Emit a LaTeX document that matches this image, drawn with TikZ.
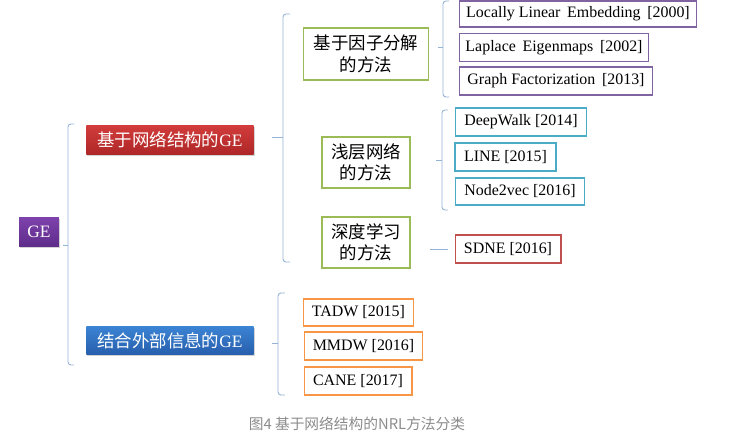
\documentclass[tikz,border=0pt]{standalone}
\usepackage{fontspec}
\setmainfont{Liberation Serif}
\newfontfamily\cjk{Noto Sans CJK SC}
\usetikzlibrary{shadows}
\definecolor{brk}{HTML}{95B3D7}
\definecolor{pur}{HTML}{8064A2}
\definecolor{cyn}{HTML}{4BACC6}
\definecolor{rdb}{HTML}{C0504D}
\definecolor{org}{HTML}{F79646}
\definecolor{grn}{HTML}{9BBB59}
\definecolor{cap}{HTML}{8C8C8C}
\definecolor{putop}{HTML}{7E42AC}
\definecolor{pubot}{HTML}{5E2C8A}
\definecolor{rdtop}{HTML}{D23C3C}
\definecolor{rdbot}{HTML}{AE2626}
\definecolor{bltop}{HTML}{3C84D4}
\definecolor{blbot}{HTML}{265EAC}
\tikzset{
  box/.style={draw, line width=1.4pt, fill=white, inner sep=0pt, align=center},
  leaf/.style={box, font=\fontsize{16}{18}\selectfont},
  mid/.style={box, draw=grn, font=\fontsize{17.5}{21.5}\selectfont\cjk},
  topbox/.style={inner sep=0pt, text=white, font=\fontsize{17.5}{20}\selectfont, drop shadow={shadow xshift=1pt, shadow yshift=-1.5pt, opacity=0.35}},
  brace/.style={draw=brk, line width=0.9pt, rounded corners=3pt},
}
\begin{document}
\begin{tikzpicture}[x=1bp,y=-1bp]
\useasboundingbox (0,0) rectangle (756,444);
% level 0
\node[topbox, top color=putop, bottom color=pubot, minimum width=40, minimum height=30] (ge) at (39,232) {GE};
% level 1
\node[topbox, top color=rdtop, bottom color=rdbot, minimum width=168, minimum height=30] (net) at (170,140) {{\cjk 基于网络结构的}GE};
\node[topbox, top color=bltop, bottom color=blbot, minimum width=168, minimum height=29] (ext) at (170,340.5) {{\cjk 结合外部信息的}GE};
% level 2
\node[mid, minimum width=126, minimum height=52] (fac) at (366,54) {基于因子分解\\的方法};
\node[mid, minimum width=88, minimum height=51] (sha) at (366,162.5) {浅层网络\\的方法};
\node[mid, minimum width=88, minimum height=51] (dee) at (366,242.5) {深度学习\\的方法};
% leaves
\node[leaf, draw=pur, minimum width=238, minimum height=26] (lle) at (578,14) {Locally\ Linear\ \,Embedding\ \,[2000]};
\node[leaf, draw=pur, minimum width=190, minimum height=28] (lap) at (554,47.5) {Laplace\ \,Eigenmaps\ \,[2002]};
\node[leaf, draw=pur, minimum width=194, minimum height=28] (gfa) at (556,81) {Graph Factorization\ \,[2013]};
\node[leaf, draw=cyn, minimum width=132, minimum height=28] (dw) at (521,122) {DeepWalk [2014]};
\node[leaf, draw=cyn, minimum width=101, minimum height=28] (lin) at (505.5,157) {LINE [2015]};
\node[leaf, draw=cyn, minimum width=130, minimum height=27] (n2v) at (520,191.5) {Node2vec [2016]};
\node[leaf, draw=rdb, minimum width=106, minimum height=28] (sdn) at (508,249) {SDNE [2016]};
\node[leaf, draw=org, minimum width=111, minimum height=27] (tad) at (358.5,312.5) {TADW [2015]};
\node[leaf, draw=org, minimum width=119, minimum height=28] (mmd) at (363.5,346) {MMDW [2016]};
\node[leaf, draw=org, minimum width=108, minimum height=28] (can) at (358,381) {CANE [2017]};
% braces
\coordinate (b0) at (63,245);
\draw[brace] (74,124) -- (68,124) -- (68,365) -- (74,365);
\draw[brace, rounded corners=0pt] (68,245) -- (b0);
\coordinate (b1) at (272,137);
\draw[brace] (290,14) -- (283,14) -- (283,262) -- (290,262);
\draw[brace, rounded corners=0pt] (283,137) -- (b1);
\coordinate (b2) at (272,343);
\draw[brace] (285,293) -- (278,293) -- (278,395) -- (285,395);
\draw[brace, rounded corners=0pt] (278,343) -- (b2);
\coordinate (b3) at (438,47);
\draw[brace] (449,1) -- (443,1) -- (443,97) -- (449,97);
\draw[brace, rounded corners=0pt] (443,47) -- (b3);
\coordinate (b4) at (436,160);
\draw[brace] (448,110) -- (442,110) -- (442,210) -- (448,210);
\draw[brace, rounded corners=0pt] (442,160) -- (b4);
\coordinate (s0) at (430,249);
\coordinate (s1) at (448,249);
\draw[brace] (s0) -- (s1);
% caption
\node[text=cap, font=\fontsize{14.8}{16}\selectfont\cjk, inner sep=0pt] (caption) at (357,424) {图4 基于网络结构的NRL方法分类};
\end{tikzpicture}
\end{document}
